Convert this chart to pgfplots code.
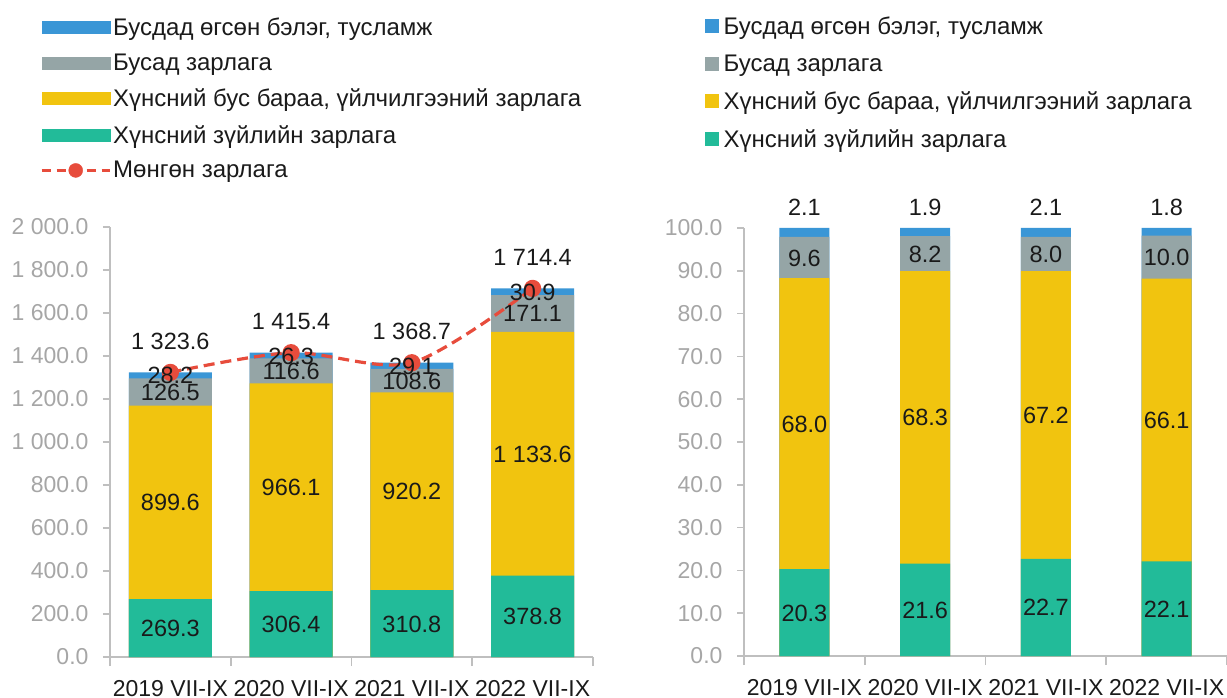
\documentclass[border=0pt]{standalone}
\usepackage{fontspec}
\setmainfont{Liberation Sans}
\usepackage{pgfplots}
\usepackage{pgfplotstable}
\pgfplotsset{compat=1.18}
\definecolor{cblue}{HTML}{3A96D6}
\definecolor{cgray}{HTML}{95A5A6}
\definecolor{cyellow}{HTML}{F1C40F}
\definecolor{cgreen}{HTML}{22BB99}
\definecolor{cred}{HTML}{E74C3C}
\definecolor{axgray}{HTML}{BFBFBF}
\definecolor{tkgray}{HTML}{A6A6A6}
\definecolor{txt}{HTML}{1A1A1A}

% g = food, n = non-food goods & services, o = other, b = gifts/aid, tot = money expenditure
\pgfplotstableread{
x g n o b tot
0 269.3 899.6 126.5 28.2 1323.6
1 306.4 966.1 116.6 26.3 1415.4
2 310.8 920.2 108.6 29.1 1368.7
3 378.8 1133.6 171.1 30.9 1714.4
}\leftdata
\pgfplotstableread{
x g n o b
0 20.3 68.0 9.6 2.1
1 21.6 68.3 8.2 1.9
2 22.7 67.2 8.0 2.1
3 22.1 66.1 10.0 1.8
}\rightdata

\newcommand\fs{\fontsize{23.5}{27}\selectfont}
\newcommand\fx{\fontsize{23}{27}\selectfont}
\newcommand\fl{\fontsize{24}{28}\selectfont}
\newcommand\ft{\fontsize{23}{27}\selectfont}

\pgfplotsset{
  base/.style={
    scale only axis, width=483pt,
    xmin=-0.5, xmax=3.5, ymin=0,
    axis lines*=left,
    axis line style={draw=axgray, line width=1.6pt},
    tick align=outside,
    xtick={0,1,2,3},
    xticklabels={2019 VII-IX,2020 VII-IX,2021 VII-IX,2022 VII-IX},
    minor xtick={-0.5,0.5,1.5,2.5,3.5},
    major x tick style={draw=none},
    minor x tick style={draw=axgray, line width=1.6pt},
    minor tick length=9pt,
    major tick length=7pt,
    y tick style={draw=axgray, line width=1.6pt},
    xticklabel style={font=\fx, text=txt, anchor=north, inner sep=0pt, yshift=-16pt},
    yticklabel style={font=\ft, text=tkgray, xshift=-11pt},
    scaled y ticks=false,
    /pgf/number format/.cd, fixed, fixed zerofill, precision=1, 1000 sep={\ }, assume math mode=true, /pgfplots/.cd,
    legend cell align=left,
    legend style={draw=none, fill=none, font=\fl, text=txt, inner sep=0pt, row sep=12.9pt},
  },
  seg/.style={sharp plot, draw=none, mark=none, nodes near coords, point meta=explicit,
    every node near coord/.style={font=\fs, text=txt, anchor=base, yshift=-8.5pt}},
}

\begin{document}
\begin{tikzpicture}
\useasboundingbox (0,0) rectangle (1227pt,697pt);
% ---------------- left panel ----------------
\begin{axis}[base, at={(110pt,40pt)}, anchor=south west, height=430pt,
  ymax=2000, ytick={0,200,...,2000},
  legend style={at={(-0.1449,1.491)}, anchor=north west}]
\addlegendimage{legend image code/.code={\fill[cblue] (0pt,-6pt) rectangle (68pt,6pt);}}
\addlegendentry{Бусдад өгсөн бэлэг, тусламж}
\addlegendimage{legend image code/.code={\fill[cgray] (0pt,-6pt) rectangle (68pt,6pt);}}
\addlegendentry{Бусад зарлага}
\addlegendimage{legend image code/.code={\fill[cyellow] (0pt,-6pt) rectangle (68pt,6pt);}}
\addlegendentry{Хүнсний бус бараа, үйлчилгээний зарлага}
\addlegendimage{legend image code/.code={\fill[cgreen] (0pt,-6pt) rectangle (68pt,6pt);}}
\addlegendentry{Хүнсний зүйлийн зарлага}
\addlegendimage{legend image code/.code={\draw[cred, line width=3pt, dash pattern=on 9pt off 6pt] (0pt,0pt) -- (68pt,0pt); \fill[cred] (34pt,0pt) circle (7pt);}}
\addlegendentry{Мөнгөн зарлага}
% stacked bars drawn as overlaid cumulative bars
\addplot[ybar, bar width=83pt, bar shift=0pt, fill=cblue, draw=none]
  table[x=x, y expr=\thisrow{g}+\thisrow{n}+\thisrow{o}+\thisrow{b}]{\leftdata};
\addplot[ybar, bar width=83pt, bar shift=0pt, fill=cgray, draw=none]
  table[x=x, y expr=\thisrow{g}+\thisrow{n}+\thisrow{o}]{\leftdata};
\addplot[ybar, bar width=83pt, bar shift=0pt, fill=cyellow, draw=none]
  table[x=x, y expr=\thisrow{g}+\thisrow{n}]{\leftdata};
\addplot[ybar, bar width=83pt, bar shift=0pt, fill=cgreen, draw=none]
  table[x=x, y=g]{\leftdata};
\addplot[smooth, color=cred, line width=3.2pt, dash pattern=on 11pt off 6pt,
  mark=*, mark size=7pt, mark options={solid, fill=cred, draw=cred},
  nodes near coords, point meta=explicit,
  every node near coord/.style={font=\fs, text=txt, anchor=base, yshift=23pt}]
  table[x=x, y=tot, meta=tot]{\leftdata};
\addplot[seg] table[x=x, y expr=\thisrow{g}/2, meta=g]{\leftdata};
\addplot[seg] table[x=x, y expr=\thisrow{g}+\thisrow{n}/2, meta=n]{\leftdata};
\addplot[seg] table[x=x, y expr=\thisrow{g}+\thisrow{n}+\thisrow{o}/2, meta=o]{\leftdata};
\addplot[seg] table[x=x, y expr=\thisrow{g}+\thisrow{n}+\thisrow{o}+\thisrow{b}/2, meta=b]{\leftdata};
\end{axis}
% ---------------- right panel ----------------
\begin{axis}[base, at={(744pt,41pt)}, anchor=south west, height=428pt,
  ymax=100, ytick={0,10,...,100},
  legend style={at={(-0.0807,1.499)}, anchor=north west, row sep=14.8pt}]
\addlegendimage{legend image code/.code={\fill[cblue] (0pt,-6.5pt) rectangle (13pt,6.5pt);}}
\addlegendentry{\hspace{3pt}Бусдад өгсөн бэлэг, тусламж}
\addlegendimage{legend image code/.code={\fill[cgray] (0pt,-6.5pt) rectangle (13pt,6.5pt);}}
\addlegendentry{\hspace{3pt}Бусад зарлага}
\addlegendimage{legend image code/.code={\fill[cyellow] (0pt,-6.5pt) rectangle (13pt,6.5pt);}}
\addlegendentry{\hspace{3pt}Хүнсний бус бараа, үйлчилгээний зарлага}
\addlegendimage{legend image code/.code={\fill[cgreen] (0pt,-6.5pt) rectangle (13pt,6.5pt);}}
\addlegendentry{\hspace{3pt}Хүнсний зүйлийн зарлага}
\addplot[ybar, bar width=50pt, bar shift=0pt, fill=cblue, draw=none]
  table[x=x, y expr=\thisrow{g}+\thisrow{n}+\thisrow{o}+\thisrow{b}]{\rightdata};
\addplot[ybar, bar width=50pt, bar shift=0pt, fill=cgray, draw=none]
  table[x=x, y expr=\thisrow{g}+\thisrow{n}+\thisrow{o}]{\rightdata};
\addplot[ybar, bar width=50pt, bar shift=0pt, fill=cyellow, draw=none]
  table[x=x, y expr=\thisrow{g}+\thisrow{n}]{\rightdata};
\addplot[ybar, bar width=50pt, bar shift=0pt, fill=cgreen, draw=none]
  table[x=x, y=g]{\rightdata};
\addplot[seg] table[x=x, y expr=\thisrow{g}/2, meta=g]{\rightdata};
\addplot[seg] table[x=x, y expr=\thisrow{g}+\thisrow{n}/2, meta=n]{\rightdata};
\addplot[seg] table[x=x, y expr=\thisrow{g}+\thisrow{n}+\thisrow{o}/2, meta=o]{\rightdata};
\addplot[seg, every node near coord/.style={font=\fs, text=txt, anchor=base, yshift=12pt}]
  table[x=x, y expr=\thisrow{g}+\thisrow{n}+\thisrow{o}+\thisrow{b}, meta=b]{\rightdata};
\end{axis}
\end{tikzpicture}
\end{document}
